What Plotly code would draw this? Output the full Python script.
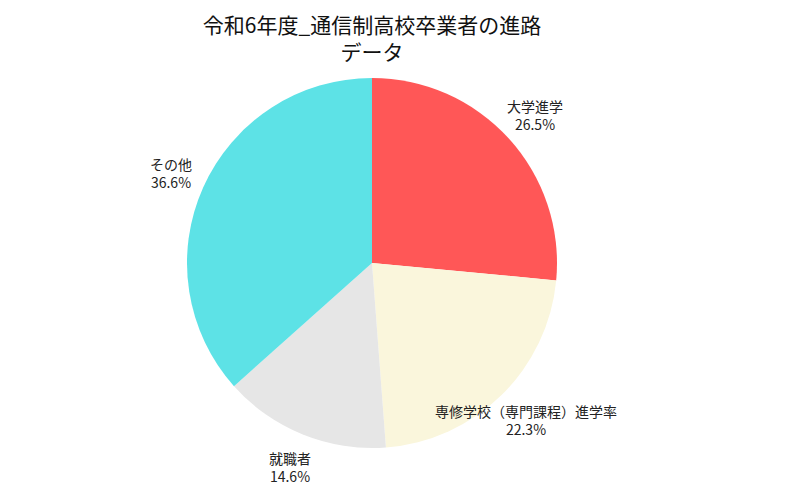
import math

import plotly.graph_objects as go

# 進路データ
labels = ["大学進学", "専修学校（専門課程）進学率", "就職者", "その他"]
values = [26.5, 22.3, 14.6, 36.6]
colors = ["#FF5757", "#FAF6DC", "#E6E6E6", "#5DE2E6"]

W, H = 800, 493
cx, cy, r = 364, 255, 185  # pie centre and radius in px (page adds an 8px body margin)
label_dist = 1.19

fig = go.Figure(
    data=go.Pie(labels=labels, values=values, sort=False, direction="clockwise", rotation=0,
                marker=dict(colors=colors, line=dict(color="white", width=0)),
                textinfo="none", showlegend=False, hoverinfo="skip",
                domain=dict(x=[(cx - r) / W, (cx + r) / W], y=[(H - cy - r) / H, (H - cy + r) / H])))

# labels outside the slices, placed along each slice's middle angle
total = sum(values)
cum = 0
annotations = []
for lab, v in zip(labels, values):
    mid = (cum + v / 2) / total * 2 * math.pi
    cum += v
    x = (cx + label_dist * r * math.sin(mid)) / W
    y = (H - cy + label_dist * r * math.cos(mid)) / H
    annotations.append(dict(x=x, y=y, xref="paper", yref="paper", xanchor="center", yanchor="middle",
                            showarrow=False, text=f"{lab}<br>{v / total * 100:.1f}%", align="center",
                            font=dict(size=14, color="#222222")))

fig.update_layout(
    title=dict(text="令和6年度_通信制高校卒業者の進路<br>データ", x=0.455, xanchor="center", y=0.95,
               font=dict(size=21, color="#111111")),
    font=dict(family="Noto Sans CJK JP, sans-serif"),
    annotations=annotations,
    width=W, height=H, paper_bgcolor="white", plot_bgcolor="white",
    margin=dict(l=0, r=0, t=0, b=0))

fig.write_html("out.html")
